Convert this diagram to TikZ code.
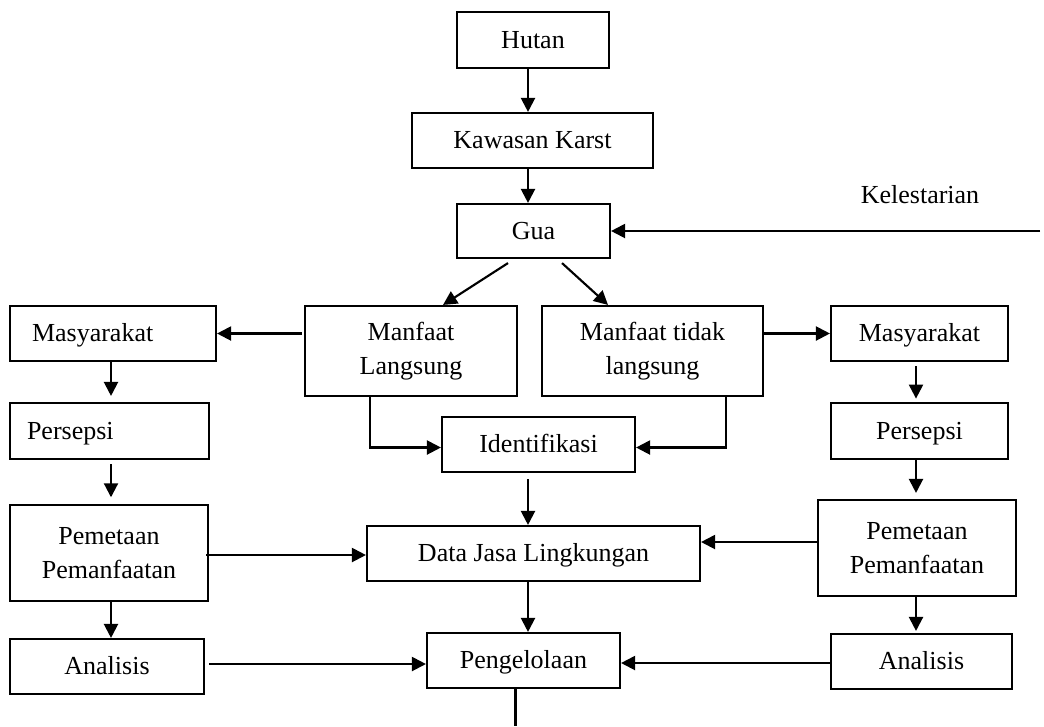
\documentclass[tikz,border=0pt]{standalone}
\usepackage{fontspec}
\setmainfont{Liberation Serif}
\usepackage{tikz}
\usetikzlibrary{calc,arrows.meta}
\tikzset{
box/.style={draw=black,line width=1.6pt,inner sep=0pt,align=center},
one/.style={text height=16pt,text depth=4pt},
sz/.style 2 args={minimum width=#1*0.75pt,minimum height=#2*0.75pt},
flowarrow/.style={-{Triangle[length=10.5pt,width=10.5pt]},line width=1.6pt},
plainline/.style={line width=1.6pt}
}

\begin{document}
\begin{tikzpicture}[x=0.75pt,y=-0.75pt,every node/.style={font=\fontsize{19.5}{26}\selectfont}]
\useasboundingbox (0,0) rectangle (1044,726);
% middle column
\node[box,one,sz={152}{56}] (hutan) at (533,40) {Hutan};
\node[box,one,sz={241}{55}] (kawasan) at (532.5,140.5) {Kawasan Karst};
\node[box,one,sz={153}{54}] (gua) at (533.5,231) {Gua};
\node[one] (kel) at (920,195) {Kelestarian};
\coordinate (kelin) at (1040,231);
\node[box,sz={212}{90}] (ml) at (411,351) {Manfaat\\Langsung};
\node[box,sz={221}{90}] (mtl) at (652.5,351) {Manfaat tidak\\langsung};
\node[box,one,sz={193}{55}] (idf) at (538.5,444.5) {Identifikasi};
\node[box,one,sz={333}{55}] (data) at (533.5,553.5) {Data Jasa Lingkungan};
\node[box,one,sz={193}{55}] (peng) at (523.5,660.5) {Pengelolaan};
\coordinate (pengout) at (515.5,726);
% left column
\node[box,one,sz={206}{55},inner xsep=16.5pt,text width=121.5pt,align=left] (mas1) at (113,333.5) {Masyarakat};
\node[box,one,sz={199}{56},inner xsep=12.75pt,text width=123.75pt,align=left] (per1) at (109.5,431) {Persepsi};
\node[box,sz={198}{96}] (pem1) at (109,553) {Pemetaan\\Pemanfaatan};
\node[box,one,sz={194}{55}] (ana1) at (107,666.5) {Analisis};
\coordinate (lcol) at (111,0);
% right column
\node[box,one,sz={177}{55}] (mas2) at (919.5,333.5) {Masyarakat};
\node[box,one,sz={177}{56}] (per2) at (919.5,431) {Persepsi};
\node[box,sz={198}{96}] (pem2) at (917,548) {Pemetaan\\Pemanfaatan};
\node[box,one,sz={181}{55}] (ana2) at (921.5,661.5) {Analisis};
\coordinate (rcol) at (916,0);

\draw[flowarrow] ($(hutan.south)+(-5,0)$) -- ($(kawasan.north)+(-4.5,0)$);
\draw[flowarrow] ($(kawasan.south)+(-4.5,0)$) -- ($(gua.north)+(-5.5,0)$);
\draw[flowarrow] (kelin) -- (gua.east);
\draw[flowarrow] ($(gua.south)+(-25.5,4)$) -- ($(ml.north)+(32,0)$);
\draw[flowarrow] ($(gua.south)+(28.5,4)$) -- ($(mtl.north)+(-44.5,0)$);
\draw[flowarrow] ($(ml.west |- mas1.east)+(-2,0)$) -- (mas1.east);
\draw[flowarrow] (mtl.east |- mas2.west) -- (mas2.west);
\draw[flowarrow] ($(ml.south)+(-41,0)$) |- ($(idf.west)+(0,3)$);
\draw[flowarrow] ($(mtl.south)+(73.5,0)$) |- ($(idf.east)+(0,3)$);
\draw[flowarrow] ($(idf.south)+(-10.5,6)$) -- ($(data.north)+(-5.5,0)$);
\draw[flowarrow] ($(data.south)+(-5.5,0)$) -- ($(peng.north)+(4.5,0)$);
\draw[plainline] (peng.south -| pengout) -- (pengout);
% left arrows
\draw[flowarrow,shorten >=4.5pt] (mas1.south -| lcol) -- (per1.north -| lcol);
\draw[flowarrow,shorten >=5pt] ($(per1.south -| lcol)+(0,4)$) -- (pem1.north -| lcol);
\draw[flowarrow] (pem1.south -| lcol) -- (ana1.north -| lcol);
\draw[flowarrow] ($(pem1.east)+(-3,2)$) -- ($(data.west)+(0,1.5)$);
\draw[flowarrow] ($(ana1.east)+(4,-2.5)$) -- ($(ana1.east -| peng.west)+(0,-2.5)$);
% right arrows
\draw[flowarrow,shorten >=2.5pt] ($(mas2.south -| rcol)+(0,4)$) -- (per2.north -| rcol);
\draw[flowarrow,shorten >=4.5pt] (per2.south -| rcol) -- (pem2.north -| rcol);
\draw[flowarrow,shorten >=1.5pt] (pem2.south -| rcol) -- (ana2.north -| rcol);
\draw[flowarrow] ($(pem2.west)+(0,-6)$) -- ($(data.east)+(0,-11.5)$);
\draw[flowarrow] ($(ana2.west)+(0,1.5)$) -- ($(ana2.west -| peng.east)+(0,1.5)$);
\end{tikzpicture}
\end{document}
